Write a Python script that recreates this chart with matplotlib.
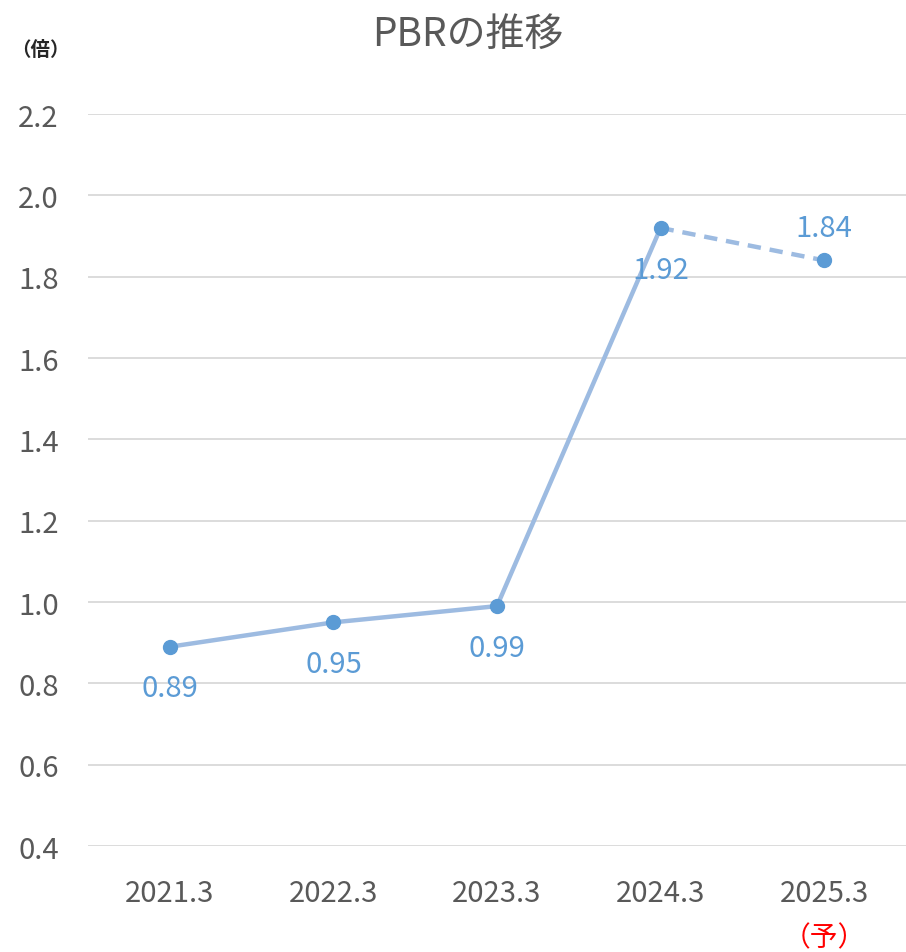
import matplotlib
matplotlib.use('Agg')
import matplotlib.pyplot as plt

plt.rcParams['font.family'] = ['Noto Sans CJK JP', 'DejaVu Sans']

# data
years = ['2021.3', '2022.3', '2023.3', '2024.3', '2025.3']
pbr = [0.89, 0.95, 0.99, 1.92, 1.84]
label_below = [True, True, True, True, False]
yticks = [0.4, 0.6, 0.8, 1.0, 1.2, 1.4, 1.6, 1.8, 2.0, 2.2]

line_c = '#9dbbe1'
mark_c = '#5b9bd5'
text_c = '#595959'

fig = plt.figure(figsize=(9.06, 9.53), dpi=100)
ax = fig.add_axes([0.0971, 0.1112, 0.9029, 0.7681])

x = list(range(len(years)))
# actual values: solid line
ax.plot(x[:4], pbr[:4], color=line_c, lw=3.2, solid_capstyle='round', zorder=2)
# forecast: dashed
ax.plot(x[3:], pbr[3:], color=line_c, lw=3.2, ls=(0, (3, 2)), zorder=2)
ax.plot(x, pbr, 'o', color=mark_c, ms=10, zorder=3)

for xi, v, below in zip(x, pbr, label_below):
    off = -30 if below else 23
    ax.annotate(f'{v:.2f}', (xi, v), xytext=(0, off), textcoords='offset points',
                ha='center', va='center', fontsize=21, color=mark_c)

ax.set_xlim(-0.5, 4.5)
ax.set_ylim(0.4, 2.2)
ax.set_yticks(yticks)
ax.set_yticklabels([f'{t:.1f}' for t in yticks])
ax.set_xticks(x)
ax.set_xticklabels(years)
ax.tick_params(axis='both', length=0, labelsize=21, labelcolor=text_c)
ax.tick_params(axis='x', pad=23)
ax.tick_params(axis='y', pad=21)
ax.grid(axis='y', color='#d9d9d9', lw=1.3)
ax.set_axisbelow(True)
for s in ax.spines.values():
    s.set_visible(False)

ax.annotate('（予）', (4, 0), xycoords=('data', 'axes fraction'), xytext=(0, -91),
            textcoords='offset pixels', ha='center', va='center', fontsize=20, color='red')

fig.text(0.516, 0.963, 'PBRの推移', ha='center', va='center', fontsize=28, color=text_c)
fig.text(0.012, 0.947, '（倍）', ha='left', va='center', fontsize=14, fontweight='bold', color='#262626')

fig.savefig('out.png', dpi=100)
